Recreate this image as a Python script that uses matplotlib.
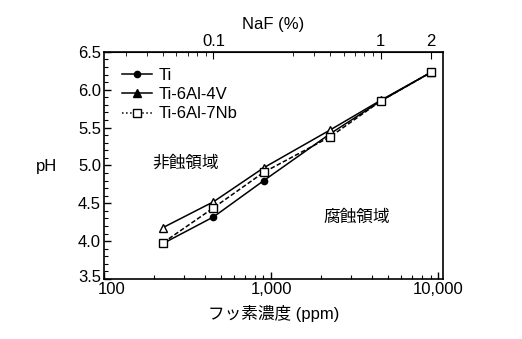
import numpy as np
import matplotlib
matplotlib.use('Agg')
import matplotlib.pyplot as plt
import matplotlib.transforms as mtransforms
from matplotlib.lines import Line2D
from matplotlib.ticker import FixedLocator, NullFormatter

plt.rcParams['font.family'] = ['Liberation Sans', 'Noto Sans CJK JP']

# NaF concentration (%) and fluoride concentration (ppm)
naf_pct = np.array([0.05, 0.1, 0.2, 0.5, 1.0, 2.0])
ppm_per_pct = 4524.0
fluoride_ppm = naf_pct * ppm_per_pct

ph_ti = [3.97, 4.32, 4.80, 5.42, 5.85, 6.23]
ph_ti64 = [4.18, 4.52, 4.97, 5.47, 5.86, 6.23]
ph_ti67 = [3.98, 4.44, 4.91, 5.38, 5.85, 6.23]

fig = plt.figure(figsize=(5.22, 3.39), dpi=100)
ax = fig.add_axes([0.199, 0.177, 0.650, 0.670])

ax.plot(fluoride_ppm, ph_ti, '-', color='black', lw=1.1, marker='o', ms=4.5, mfc='black')
ax.plot(fluoride_ppm, ph_ti64, '-', color='black', lw=1.1, marker='^', ms=6, mfc='white')
ax.plot(fluoride_ppm, ph_ti67, '--', color='black', lw=1.1, dashes=(3, 1.5), marker='s', ms=6, mfc='white')

ax.set_xscale('log')
ax.set_xlim(100, 10700)
ax.set_ylim(3.5, 6.5)
ax.set_xticks([100, 1000, 10000])
ax.set_xticklabels(['100', '1,000', '10,000'])
minor_x = [m * d for d in (100, 1000) for m in range(2, 10)]
ax.xaxis.set_minor_locator(FixedLocator(minor_x))
ax.xaxis.set_minor_formatter(NullFormatter())
ax.set_yticks([3.5, 4.0, 4.5, 5.0, 5.5, 6.0, 6.5])
ax.set_yticks(np.arange(3.5, 6.5, 0.1), minor=True)
ax.tick_params(which='both', direction='in', labelsize=12, pad=2)
ax.tick_params(which='major', length=5, width=1)
ax.tick_params(which='minor', length=3, width=0.8)
for s in ax.spines.values():
    s.set_linewidth(1.2)

# nudge "100" right so it does not collide with "3.5"
lbl = ax.get_xticklabels()[0]
lbl.set_transform(lbl.get_transform() + mtransforms.ScaledTranslation(8 / 100, 0, fig.dpi_scale_trans))
ylbl = ax.get_yticklabels()[0]
ylbl.set_transform(ylbl.get_transform() + mtransforms.ScaledTranslation(0, 3 / 100, fig.dpi_scale_trans))

ax.set_xlabel('フッ素濃度 (ppm)', fontsize=12, labelpad=6)
ax.set_ylabel('pH', fontsize=12, rotation=0, labelpad=4, va='center')
ax.yaxis.set_label_coords(-0.17, 0.495)

# top axis in NaF %
top = ax.secondary_xaxis('top', functions=(lambda x: x / ppm_per_pct, lambda p: p * ppm_per_pct))
top.set_xticks([0.1, 1, 2])
top.set_xticklabels(['0.1', '1', '2'])
top.xaxis.set_minor_locator(FixedLocator([0.03, 0.04, 0.05, 0.06, 0.07, 0.08, 0.09,
                                          0.3, 0.4, 0.5, 0.6, 0.7, 0.8, 0.9]))
top.xaxis.set_minor_formatter(NullFormatter())
top.tick_params(which='both', direction='in', labelsize=12, pad=2)
top.tick_params(which='major', length=5)
top.tick_params(which='minor', length=3)
top.set_xlabel('NaF (%)', fontsize=12, labelpad=4)

ax.text(196, 5.03, '非蝕領域', fontsize=12, va='center', ha='left')
ax.text(2050, 4.32, '腐蝕領域', fontsize=12, va='center', ha='left')

handles = [
    Line2D([], [], color='black', lw=1.1, marker='o', ms=4.5),
    Line2D([], [], color='black', lw=1.1, marker='^', ms=6),
    Line2D([], [], color='black', lw=1.1, ls=':', marker='s', ms=6, mfc='white'),
]
ax.legend(handles, ['Ti', 'Ti-6Al-4V', 'Ti-6Al-7Nb'], loc='upper left', frameon=False,
          fontsize=12, handlelength=1.8, handletextpad=0.4, labelspacing=0.25,
          borderaxespad=0.3, bbox_to_anchor=(0.02, 0.98))

fig.savefig('out.png', dpi=100)
